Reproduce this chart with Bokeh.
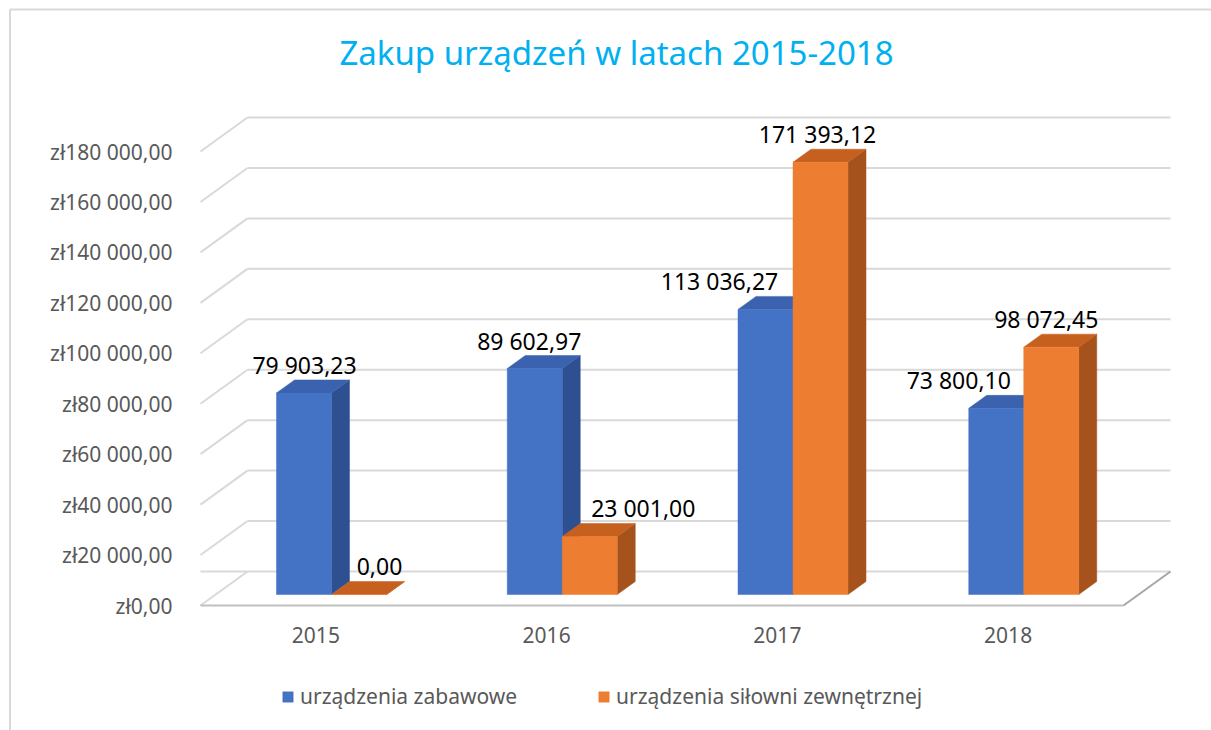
from bokeh.plotting import figure
from bokeh.models import (Range1d, LinearAxis, FixedTicker, Label, Legend,
                          LegendItem, ColumnDataSource)
from bokeh.core.properties import value
from bokeh.embed import file_html
from bokeh.resources import INLINE

# ---------------- data ----------------
title_text = "Zakup urządzeń w latach 2015-2018"
years = ["2015", "2016", "2017", "2018"]
series_names = ["urządzenia zabawowe", "urządzenia siłowni zewnętrznej"]
zabawowe = [79903.23, 89602.97, 113036.27, 73800.10]
silownie = [0.00, 23001.00, 171393.12, 98072.45]
y_ticks = [0, 20000, 40000, 60000, 80000, 100000, 120000, 140000, 160000, 180000]


def pl_num(v):
    return f"{v:,.2f}".replace(",", " ").replace(".", ",")


y_tick_labels = ["zł" + pl_num(t) for t in y_ticks]

# ---------------- layout / style ----------------
W, H = 1211, 730
OFF = 0                     # page offset of the figure
Y0_PAGE = 605               # page y of value 0 on the front edge
PX = 180000 / 454           # data units per pixel (vertical)


def vy(page_y):
    return (Y0_PAGE - page_y) * PX


FL, FR = 200, 1123          # front floor edge
BDX, BDY = 47, 34 * PX      # back wall offset
GW = (FR - FL) / 4          # group width
BAR_W = 55
BAR_X0 = 76                 # first bar offset inside group
BASE = 11 * PX              # bar base above front edge
DX, DY = 18, 13 * PX        # bar depth
LABEL_GAP = 15 * PX

FONT = "Noto Sans"
GRID_C = "#d9d9d9"
FLOOR_C = "#bfbfbf"
TXT_C = "#595959"
colors = {
    0: dict(front="#4472C4", side="#2F5090", top="#3A62AE"),
    1: dict(front="#ED7D31", side="#A5521C", top="#C6601E"),
}
# horizontal nudges (px) of the value labels, as placed in the original
label_nudge = {0: [0.5, -5.5, -46, -37.5], 1: [20.5, 53.5, -3, -5]}

p = figure(width=W, height=H, output_backend="svg", toolbar_location=None,
           x_range=Range1d(OFF, OFF + W), y_range=Range1d(vy(OFF + H), vy(OFF)),
           x_axis_type=None, y_axis_type=None, min_border=0)
p.outline_line_color = None
p.background_fill_color = "white"
p.border_fill_color = "white"
p.grid.visible = False

# chart border (left & top)
p.segment(x0=[9.5, 9.5], y0=[vy(OFF + H), vy(9)], x1=[9.5, OFF + W], y1=[vy(9), vy(9)],
          line_color=GRID_C, line_width=2)

# back wall + side wall gridlines
for t in y_ticks[1:]:
    p.segment(x0=[FL, FL + BDX], y0=[t, t + BDY], x1=[FL + BDX, FR + BDX], y1=[t + BDY, t + BDY],
              line_color=GRID_C, line_width=2)
# floor
p.segment(x0=[FL, FL + BDX, FL, FR], y0=[BDY, BDY, 0, 0],
          x1=[FR + BDX, FL, FR, FR + BDX], y1=[BDY, 0, 0, BDY],
          line_color=[GRID_C, GRID_C, FLOOR_C, "#a6a6a6"], line_width=2)

# bars
front_renderers = []
for s, vals in enumerate([zabawowe, silownie]):
    lefts = [FL + BAR_X0 + i * GW + s * BAR_W for i in range(len(vals))]
    rights = [l + BAR_W for l in lefts]
    tops = [BASE + v for v in vals]
    side_xs = [[r, r + DX, r + DX, r] for r in rights]
    side_ys = [[BASE, BASE + DY, t + DY, t] for t in tops]
    top_xs = [[l, r, r + DX, l + DX] for l, r in zip(lefts, rights)]
    top_ys = [[t, t, t + DY, t + DY] for t in tops]
    c = colors[s]
    p.patches(side_xs, side_ys, fill_color=c["side"], line_color=c["side"], line_width=0.5)
    p.patches(top_xs, top_ys, fill_color=c["top"], line_color=c["top"], line_width=0.5)
    fr = p.quad(left=lefts, right=rights, bottom=[BASE] * len(vals), top=tops,
                fill_color=c["front"], line_color=c["front"], line_width=0.5)
    front_renderers.append(fr)
    src = ColumnDataSource(dict(
        x=[(l + r) / 2 for l, r in zip(lefts, rights)],
        y=[t + DY + LABEL_GAP for t in tops],
        txt=[pl_num(v) for v in vals],
        dx=label_nudge[s]))
    p.text(x="x", y="y", text="txt", x_offset="dx", source=src,
           text_align="center", text_baseline="alphabetic",
           text_font=value(FONT), text_font_size="23px", text_color="#000000")

# y axis (at the front-left corner of the wall)
yaxis = LinearAxis(fixed_location=FL, ticker=FixedTicker(ticks=y_ticks),
                   major_label_overrides={t: lab for t, lab in zip(y_ticks, y_tick_labels)})
yaxis.axis_line_color = None
yaxis.major_tick_line_color = None
yaxis.minor_tick_line_color = None
yaxis.major_label_standoff = 22
yaxis.major_label_text_font = FONT
yaxis.major_label_text_font_size = "21px"
yaxis.major_label_text_color = TXT_C
p.add_layout(yaxis, "left")

# x axis (category labels along the front floor edge)
centers = [FL + (i + 0.5) * GW for i in range(len(years))]
xaxis = LinearAxis(fixed_location=0, ticker=FixedTicker(ticks=centers),
                   major_label_overrides={c: y for c, y in zip(centers, years)})
xaxis.axis_line_color = None
xaxis.major_tick_line_color = None
xaxis.minor_tick_line_color = None
xaxis.major_label_standoff = 15
xaxis.major_label_text_font = FONT
xaxis.major_label_text_font_size = "21px"
xaxis.major_label_text_color = TXT_C
p.add_layout(xaxis, "below")

# title
p.add_layout(Label(x=616, y=vy(52), text=title_text, text_align="center",
                   text_baseline="middle", text_font=FONT, text_font_size="33px",
                   text_color="#00B0F0"))

# legend
legend = Legend(items=[LegendItem(label=n, renderers=[r]) for n, r in zip(series_names, front_renderers)],
                location=(281, 20), orientation="horizontal", glyph_width=13, glyph_height=13,
                label_text_font=FONT, label_text_font_size="21px", label_text_color=TXT_C,
                label_standoff=6, spacing=80, padding=0, margin=0,
                border_line_color=None, background_fill_alpha=0)
p.add_layout(legend)

open("out.html", "w").write(file_html(p, INLINE))
